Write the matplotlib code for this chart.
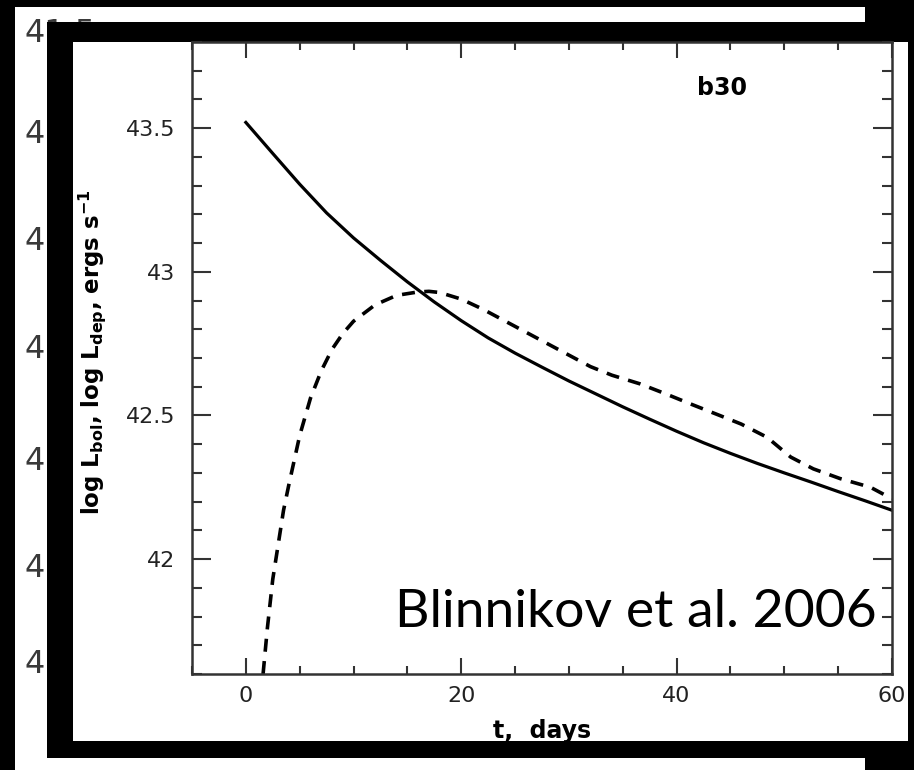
import matplotlib
matplotlib.use("Agg")
import matplotlib.pyplot as plt
from matplotlib.patches import Rectangle
from matplotlib.ticker import MultipleLocator

# ---- data ----
t_bol = [0.0, 2.5, 5.0, 7.5, 10.0, 12.5, 15.0, 17.5, 20.0, 22.5, 25.0, 27.5, 30.0,
         32.5, 35.0, 37.5, 40.0, 42.5, 45.0, 47.5, 50.0, 52.5, 55.0, 57.5, 60.0]
log_lbol = [43.52, 43.412, 43.305, 43.205, 43.118, 43.04, 42.965, 42.895, 42.83,
            42.77, 42.717, 42.668, 42.62, 42.575, 42.53, 42.487, 42.445, 42.405,
            42.368, 42.333, 42.30, 42.268, 42.235, 42.203, 42.17]

t_dep = [1.6, 2.0, 2.5, 3.0, 3.5, 4.0, 5.0, 6.0, 7.0, 8.0, 9.0, 10.0, 12.0, 14.0,
         16.0, 17.0, 18.0, 20.0, 22.0, 24.0, 26.0, 28.0, 30.0, 32.0, 34.0, 36.6,
         39.0, 41.3, 44.0, 46.0, 48.4, 50.6, 52.7, 55.2, 58.0, 60.0]
log_ldep = [41.60, 41.76, 41.93, 42.05, 42.17, 42.26, 42.43, 42.56, 42.655, 42.73,
            42.785, 42.828, 42.885, 42.918, 42.93, 42.932, 42.928, 42.905, 42.87,
            42.83, 42.79, 42.75, 42.71, 42.67, 42.64, 42.61, 42.575, 42.54, 42.50,
            42.47, 42.424, 42.355, 42.314, 42.28, 42.25, 42.21]

x_ticks = [0, 20, 40, 60]
y_ticks = [42.0, 42.5, 43.0, 43.5]
y_ticklabels = ["42", "42.5", "43", "43.5"]

# remnants of an underlying figure's tick labels (only partly visible)
ghost_labels = ["41.5", "4", "4", "4", "4", "4", "4"]
ghost_base_px = [42, 143, 250, 358, 470, 577, 673]

W, H = 914, 770
plt.rcParams['mathtext.default'] = 'bf'
fig = plt.figure(figsize=(W / 100, H / 100), dpi=100, facecolor='black')


def rect(x0, y0, x1, y1, color, z):
    r = Rectangle((x0 / W, 1 - y1 / H), (x1 - x0) / W, (y1 - y0) / H,
                  transform=fig.transFigure, facecolor=color, edgecolor='none',
                  zorder=z)
    fig.add_artist(r)


# underlying white page
rect(15, 7, 865, 770, 'white', -10)
for lab, yp in zip(ghost_labels, ghost_base_px):
    fig.text(24 / W, 1 - yp / H, lab, fontsize=23, color='#3a3a3a',
             ha='left', va='baseline', zorder=-9, family='DejaVu Sans')
# black frame and white panel
rect(47, 22, 914, 758, 'black', -8)
rect(73, 42, 908, 741, 'white', -7)

ax = fig.add_axes([192 / W, (H - 674) / H, 700 / W, 632 / H])
ax.set_facecolor('white')

ax.plot(t_bol, log_lbol, color='black', lw=2.3, solid_joinstyle='round')
ax.plot(t_dep, log_ldep, color='black', lw=2.6, linestyle=(0, (3.6, 2.6)))

ax.set_xlim(-5, 60)
ax.set_ylim(41.6, 43.8)

ax.set_xticks(x_ticks)
ax.set_xticklabels([str(v) for v in x_ticks])
ax.set_yticks(y_ticks)
ax.set_yticklabels(y_ticklabels)
ax.xaxis.set_minor_locator(MultipleLocator(5))
ax.yaxis.set_minor_locator(MultipleLocator(0.1))

ax.tick_params(axis='both', which='both', direction='in', top=True, right=True,
               color='#333333', width=1.5, labelsize=16, labelcolor='#222222')
ax.tick_params(axis='x', which='major', length=11.5, pad=9)
ax.tick_params(axis='x', which='minor', length=6)
ax.tick_params(axis='y', which='major', length=14, pad=12)
ax.tick_params(axis='y', which='minor', length=7)
for s in ax.spines.values():
    s.set_linewidth(1.8)
    s.set_color('#333333')

ax.set_xlabel('t,  days', fontsize=17, fontweight='bold')
ax.xaxis.set_label_coords(0.5, -0.071)
ax.xaxis.label.set_va('top')
ax.set_ylabel(r'log L$_{bol}$, log L$_{dep}$, ergs s$^{-1}$', fontsize=16.5,
              fontweight='bold')
ax.yaxis.set_label_coords(-0.12, 0.51)

ax.text(44.2, 43.64, 'b30', fontsize=17, fontweight='bold', ha='center',
        va='center')

fig.text(877 / W, 1 - 627 / H, 'Blinnikov et al. 2006', fontsize=38.5,
         family='Lato', ha='right', va='baseline', color='black', zorder=10)

fig.savefig('out.png', dpi=100, facecolor='black')
